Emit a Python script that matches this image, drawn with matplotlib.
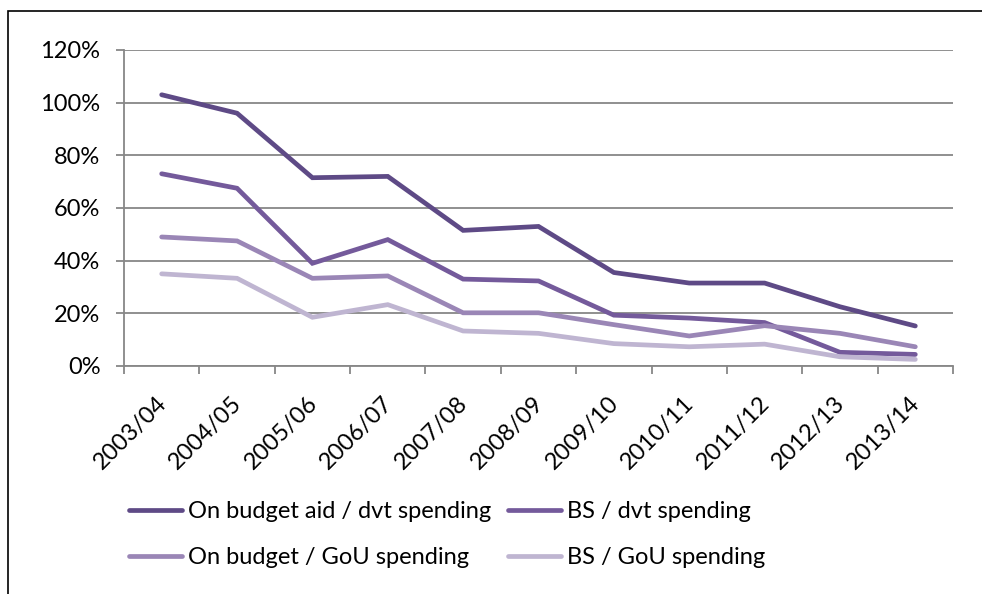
import matplotlib
matplotlib.use("Agg")
import matplotlib.pyplot as plt
from matplotlib.patches import Rectangle
from matplotlib.ticker import FixedLocator, PercentFormatter
from matplotlib.transforms import ScaledTranslation

plt.rcParams['font.family'] = ['Lato', 'DejaVu Sans']

years = ["2003/04", "2004/05", "2005/06", "2006/07", "2007/08", "2008/09",
         "2009/10", "2010/11", "2011/12", "2012/13", "2013/14"]
on_budget_aid_dvt = [103, 96, 71.5, 72, 51.5, 53, 35.5, 31.5, 31.5, 22.5, 15.2]
bs_dvt = [73, 67.5, 39, 48, 33, 32.3, 19.3, 18.2, 16.5, 5.2, 4.4]
on_budget_gou = [49, 47.5, 33.3, 34.2, 20.2, 20.2, 15.7, 11.4, 15.3, 12.4, 7.3]
bs_gou = [35, 33.3, 18.5, 23.3, 13.3, 12.4, 8.5, 7.3, 8.3, 3.5, 2.5]

series = [
    ("On budget aid / dvt spending", on_budget_aid_dvt, "#5E4A86"),
    ("BS / dvt spending", bs_dvt, "#745A9B"),
    ("On budget / GoU spending", on_budget_gou, "#9A86B6"),
    ("BS / GoU spending", bs_gou, "#BFB5D1"),
]

W, H = 982, 594
fig = plt.figure(figsize=(W / 100, H / 100), dpi=100)
ax = fig.add_axes([124 / W, 1 - 366 / H, (953 - 124) / W, (366 - 50) / H])

x = list(range(len(years)))
lines = {}
for name, vals, col in series:
    ln, = ax.plot(x, vals, color=col, lw=3.4, solid_capstyle='round',
                  solid_joinstyle='miter', label=name, zorder=3)
    lines[name] = ln

ax.set_xlim(-0.5, len(years) - 0.5)
ax.set_ylim(0, 120)
ax.yaxis.set_major_locator(FixedLocator([0, 20, 40, 60, 80, 100, 120]))
ax.yaxis.set_major_formatter(PercentFormatter(decimals=0))

grid_col = "#878787"
ax.grid(axis='y', color=grid_col, lw=1.3, zorder=1)
ax.set_axisbelow(True)
for s in ("top", "right"):
    ax.spines[s].set_visible(False)
for s in ("left", "bottom"):
    ax.spines[s].set_color(grid_col)
    ax.spines[s].set_linewidth(1.3)

# category boundaries carry the tick marks, centres carry the labels
ax.xaxis.set_major_locator(FixedLocator([i - 0.5 for i in range(len(years) + 1)]))
ax.xaxis.set_minor_locator(FixedLocator(x))
ax.set_xticklabels([], minor=False)
ax.set_xticks(x, years, minor=True)
ax.tick_params(axis='x', which='major', length=6, width=1.3, color=grid_col, direction='out')
ax.tick_params(axis='x', which='minor', length=0, pad=19, labelsize=17)
ax.tick_params(axis='y', length=6, width=1.3, color=grid_col, pad=11, labelsize=17)
shift = ScaledTranslation(-6 / 100, 0, fig.dpi_scale_trans)
for lab in ax.get_xticklabels(minor=True):
    lab.set_rotation(45)
    lab.set_ha('right')
    lab.set_va('top')
    lab.set_rotation_mode('anchor')
    lab.set_transform(lab.get_transform() + shift)

order = ["On budget aid / dvt spending", "On budget / GoU spending",
         "BS / dvt spending", "BS / GoU spending"]
fig.legend([lines[n] for n in order], order, ncol=2, frameon=False,
           fontsize=17, handlelength=2.25, handletextpad=0.25, columnspacing=0.72,
           labelspacing=1.05, loc='upper left', bbox_to_anchor=(129 / W, 1 - 501 / H),
           borderaxespad=0, borderpad=0)

# outer chart frame
fig.patches.append(Rectangle((8 / W, -0.1), 1.2, 1 - 11 / H + 0.1, transform=fig.transFigure,
                             fill=False, edgecolor='black', lw=1.2, clip_on=False))

fig.savefig("out.png", dpi=100)
